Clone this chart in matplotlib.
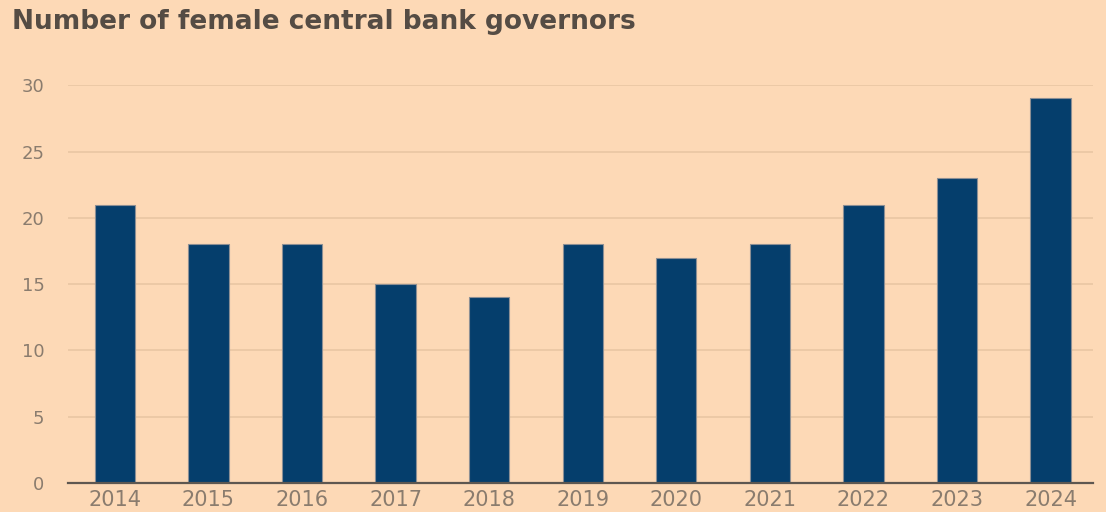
import matplotlib.pyplot as plt
import numpy as np

years = ["2014", "2015", "2016", "2017", "2018", "2019", "2020", "2021", "2022", "2023", "2024"]
governors = [21, 18, 18, 15, 14, 18, 17, 18, 21, 23, 29]
y_ticks = [0, 5, 10, 15, 20, 25, 30]

bg = "#fdd9b6"
bar_color = "#053e6c"

fig = plt.figure(figsize=(11.06, 5.12), dpi=100, facecolor=bg)
ax = fig.add_axes([0.0615, 0.0566, 0.9265, 0.777], facecolor=bg)

x = np.arange(len(years))
ax.bar(x, governors, width=0.43, color=bar_color, edgecolor="#8c8f94", linewidth=0.8, zorder=3)

ax.set_xlim(-0.5, 10.45)
ax.set_ylim(0, 30)
ax.set_yticks(y_ticks)
ax.set_yticklabels([str(t) for t in y_ticks])
ax.set_xticks(x)
ax.set_xticklabels(years)

ax.grid(axis="y", color="#ecc9a6", linewidth=1.4, zorder=0)
ax.set_axisbelow(True)
for side in ["top", "right", "left"]:
    ax.spines[side].set_visible(False)
ax.spines["bottom"].set_color("#5e5750")
ax.spines["bottom"].set_linewidth(1.6)
ax.spines["bottom"].set_zorder(4)

ax.tick_params(axis="y", length=0, pad=17, labelsize=13, labelcolor="#8a7c6e")
ax.tick_params(axis="x", length=0, pad=5, labelsize=15, labelcolor="#8a7c6e")

fig.text(0.011, 0.957, "Number of female central bank governors", fontsize=19,
         fontweight="bold", color="#554c44", ha="left", va="center")

fig.savefig("out.png", dpi=100, facecolor=bg)
